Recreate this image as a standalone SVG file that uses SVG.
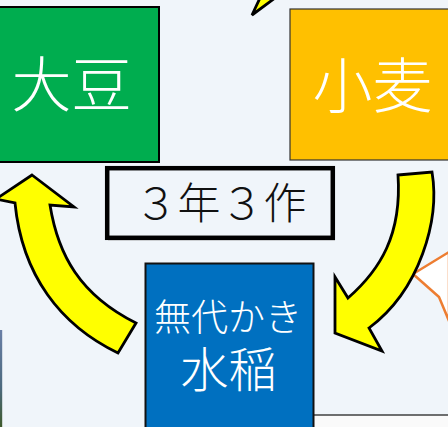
<svg xmlns="http://www.w3.org/2000/svg" width="448" height="427" viewBox="0 0 448 427">
  <defs>
    <style>
      .crop { stroke-width: 2; }
      .label { font-family: "Noto Sans CJK JP", "Noto Sans", sans-serif; fill: #ffffff; text-anchor: middle; font-weight: 300; }
      .title { font-family: "Noto Sans CJK JP", "Noto Sans", sans-serif; fill: #111111; text-anchor: middle; font-weight: 300; }
      .arrow { fill: #ffff00; stroke: #000000; stroke-width: 2.8; stroke-linejoin: miter; }
    </style>
    <linearGradient id="photoEdge" x1="0" y1="0" x2="0" y2="1">
      <stop offset="0" stop-color="#6a7fa6"/>
      <stop offset="0.6" stop-color="#4d6a7e"/>
      <stop offset="1" stop-color="#3f5a2c"/>
    </linearGradient>
  </defs>

  <!-- page background -->
  <rect x="0" y="0" width="448" height="427" fill="#f0f5fa"/>

  <!-- edge of a photo at the left margin -->
  <rect x="0" y="330" width="2.2" height="97" fill="url(#photoEdge)"/>

  <!-- lower-right panel edge -->
  <rect x="314" y="415" width="134" height="12" fill="#fafafa"/>
  <line x1="314" y1="415" x2="448" y2="415" stroke="#404040" stroke-width="1.5"/>

  <!-- speech callout on the right -->
  <path d="M 449,252 L 413,274 L 439,297 L 449,321 Z" fill="#ffffff" stroke="#ed7d31" stroke-width="2.5" stroke-linejoin="round"/>

  <!-- tip of an arrow entering from above -->
  <path class="arrow" d="M 252,15 L 260,-2 L 275,-2 Z" stroke-width="2"/>

  <!-- crop nodes -->
  <g id="node-daizu">
    <rect class="crop" x="-2" y="7" width="161" height="155" fill="#00ad4f" stroke="#000000"/>
    <text class="label" x="71.5" y="106.5" font-size="60">大豆</text>
  </g>

  <g id="node-komugi">
    <rect x="290" y="9" width="162" height="151" fill="#ffc000" stroke="#333333" stroke-width="1.2"/>
    <text class="label" x="372.5" y="107.5" font-size="60">小麦</text>
  </g>

  <g id="node-suito">
    <rect class="crop" x="145.5" y="263.5" width="168" height="170" fill="#0070c0" stroke="#111111"/>
    <text class="label"><tspan x="228" y="330.5" font-size="37">無代かき</tspan><tspan x="228.5" y="387" font-size="48">水稲</tspan></text>
  </g>

  <g id="cycle-title">
    <rect x="108" y="169.5" width="227" height="71" fill="#9a9a9a" opacity="0.6"/>
    <rect x="107.2" y="168.2" width="225.6" height="69.6" fill="#f0f5fa" stroke="#000000" stroke-width="4.5"/>
    <text class="title" x="220.5" y="218.5" font-size="43">３年３作</text>
  </g>

  <!-- rotation arrows -->
  <g id="connectors">
    <!-- 水稲 → 大豆 -->
    <path class="arrow" d="M 32,175 L 74,207 L 50,205 C 58,255 80,295 136,323 L 118,353 C 60,325 22,275 15,203 L -4,199 Z"/>
    <!-- 小麦 → 水稲 -->
    <path class="arrow" d="M 398,175 L 432,172 C 440,220 420,290 369,328 L 382,351 L 335,333 L 335,277 L 348,298 C 380,270 402,235 398,175 Z"/>
  </g>
</svg>
